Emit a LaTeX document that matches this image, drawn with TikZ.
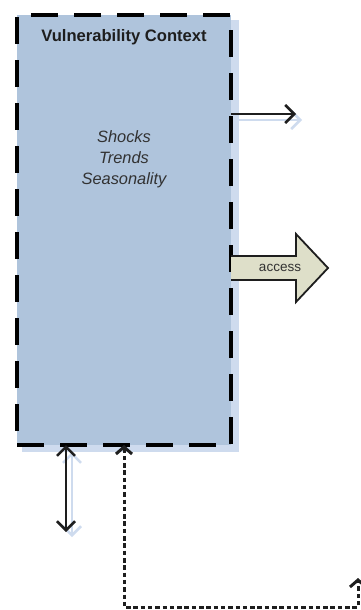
\documentclass[tikz,border=0pt]{standalone}
\usepackage{fontspec}
\setmainfont{Liberation Sans}
\usetikzlibrary{arrows.meta}
\definecolor{boxfill}{RGB}{175,196,220}
\definecolor{shadowblue}{RGB}{206,219,238}
\definecolor{accessfill}{RGB}{222,223,201}
\definecolor{ink}{RGB}{30,30,30}
\definecolor{txt}{RGB}{50,50,50}

\begin{document}
\begin{tikzpicture}[x=1pt,y=-1pt,
  barb/.tip={Straight Barb[length=9pt,width=18pt]},
  smallbarb/.tip={Straight Barb[length=7pt,width=16pt]},
  ctxbox/.style={draw=black, line width=3.5pt, fill=boxfill,
    dash pattern=on 27pt off 16pt, minimum width=214pt,
    minimum height=430pt, inner sep=0pt, outer sep=0pt, anchor=north west},
  titletext/.style={font=\bfseries\fontsize{16.6}{20}\selectfont, text=ink, inner sep=0pt, anchor=base},
  itemtext/.style={font=\itshape\fontsize{16.4}{20}\selectfont, text=txt, inner sep=0pt, anchor=base},
  conn/.style={draw=ink, line width=2.5pt},
  ghost/.style={draw=shadowblue, line width=2.5pt},
  dotline/.style={draw=ink, line width=3pt, dash pattern=on 4.5pt off 2.8pt},
  blockarrow/.style={fill=accessfill},
  blockedge/.style={draw=ink, line width=1.8pt, line join=miter},
  labeltext/.style={font=\fontsize{13.5}{16}\selectfont, text=txt, inner sep=0pt}
]
\useasboundingbox (0,0) rectangle (361,610);

% soft shadow behind the context box
\fill[shadowblue] (22,20) rectangle (239,452);

% the context box
\node[ctxbox] (vc) at (17,15) {};

% texts inside
\node[titletext] (title) at (124,42) {Vulnerability Context};
\node[itemtext] (shocks) at (124,142) {Shocks};
\node[itemtext] (trends) at (124,163) {Trends};
\node[itemtext] (season) at (124,184) {Seasonality};

% arrow to the right near the top
\coordinate (topend) at (296,114);
\coordinate (topstartghost) at (238,120);
\coordinate (topghost) at (302,120);
\draw[ghost, -barb] (topstartghost) -- (topghost);
\draw[conn, -barb] (vc.east |- topend) -- (topend);

% block arrow labelled access
\fill[blockarrow] (231,256) -- (296,256) -- (296,234) -- (328,268)
  -- (296,302) -- (296,280) -- (231,280) -- cycle;
\draw[blockedge] (231,256) -- (296,256) -- (296,234) -- (328,268)
  -- (296,302) -- (296,280) -- (231,280);
\node[labeltext] (access) at (280,268) {access};

% two-headed arrow below the box
\coordinate (dblend) at (66,532);
\coordinate (dblghoststart) at (72,452);
\coordinate (dblghost) at (72,537);
\draw[ghost, barb-barb] (dblghoststart) -- (dblghost);
\draw[conn, barb-barb] (vc.south -| dblend) -- (dblend);

% dotted feedback line
\coordinate (fbcorner1) at (124,607);
\coordinate (fbcorner2) at (358,607);
\coordinate (fbend) at (358,578);
\draw[dotline, smallbarb-smallbarb]
  (vc.south -| fbcorner1) -- (fbcorner1) -- (fbcorner2) -- (fbend);
\end{tikzpicture}
\end{document}
